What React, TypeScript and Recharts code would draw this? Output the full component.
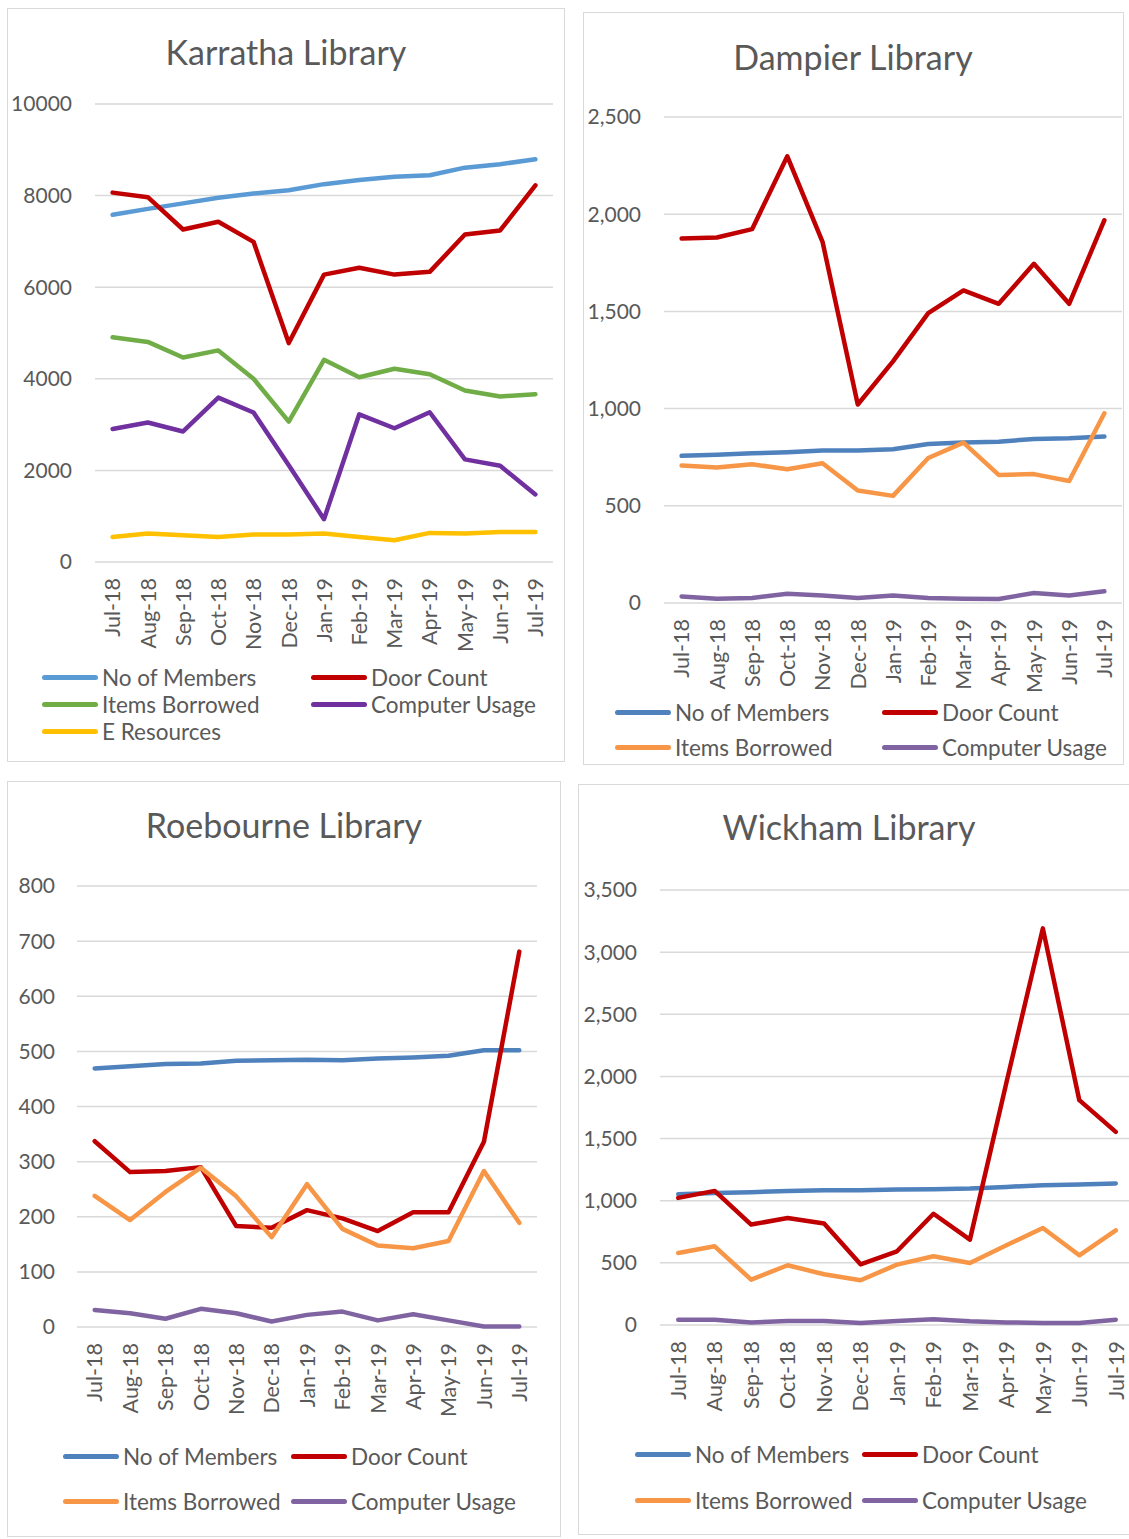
import { LineChart, Line, XAxis, YAxis, CartesianGrid } from 'recharts';

const months = ["Jul-18", "Aug-18", "Sep-18", "Oct-18", "Nov-18", "Dec-18", "Jan-19", "Feb-19", "Mar-19", "Apr-19", "May-19", "Jun-19", "Jul-19"];

// Karratha
const karrathaMembers = [7580, 7710, 7830, 7955, 8045, 8115, 8250, 8340, 8410, 8445, 8610, 8685, 8795];
const karrathaDoor = [8065, 7965, 7260, 7430, 6990, 4780, 6275, 6425, 6275, 6335, 7150, 7240, 8225];
const karrathaItems = [4905, 4805, 4465, 4620, 4000, 3065, 4415, 4035, 4220, 4100, 3745, 3615, 3665];
const karrathaComputer = [2905, 3045, 2850, 3590, 3265, 2115, 935, 3225, 2920, 3270, 2240, 2100, 1475];
const karrathaEResources = [545, 620, 585, 545, 600, 600, 620, 545, 475, 635, 620, 655, 655];
const karrathaTicks = [0, 2000, 4000, 6000, 8000, 10000];

// Dampier
const dampierMembers = [757, 762, 770, 776, 784, 784, 791, 818, 825, 830, 844, 847, 856];
const dampierDoor = [1875, 1880, 1923, 2298, 1858, 1021, 1243, 1491, 1608, 1539, 1745, 1539, 1969];
const dampierItems = [707, 697, 714, 688, 719, 579, 551, 746, 825, 659, 663, 628, 976];
const dampierComputer = [34, 22, 26, 48, 38, 26, 39, 26, 22, 21, 51, 39, 60];
const dampierTicks = [0, 500, 1000, 1500, 2000, 2500];

// Roebourne
const roebourneMembers = [469, 473, 477, 478, 483, 484, 485, 484, 487, 489, 492, 502, 502];
const roebourneDoor = [337, 281, 283, 290, 183, 180, 212, 197, 174, 208, 208, 336, 681];
const roebourneItems = [238, 194, 245, 289, 237, 163, 259, 178, 148, 143, 156, 283, 189];
const roebourneComputer = [31, 25, 15, 33, 25, 10, 22, 28, 12, 23, 12, 1, 1];
const roebourneTicks = [0, 100, 200, 300, 400, 500, 600, 700, 800];

// Wickham
const wickhamMembers = [1052, 1063, 1068, 1079, 1084, 1084, 1090, 1092, 1098, 1111, 1125, 1130, 1138];
const wickhamDoor = [1023, 1079, 808, 861, 816, 488, 593, 895, 687, 1950, 3191, 1809, 1554];
const wickhamItems = [580, 633, 365, 481, 408, 360, 486, 553, 499, 641, 781, 561, 762];
const wickhamComputer = [43, 43, 21, 32, 32, 16, 32, 46, 30, 21, 16, 16, 43];
const wickhamTicks = [0, 500, 1000, 1500, 2000, 2500, 3000, 3500];

const textColor = "#595959";
const gridColor = "#d9d9d9";

const MonthTick = (props: any) => {
  const { x, y, payload } = props;
  return (
    <text x={x} y={y} transform={`rotate(-90 ${x} ${y})`} textAnchor="end" dy="0.36em" fill={textColor} fontSize={21.5}>
      {payload.value}
    </text>
  );
};

function Panel({ title, left, top, width, height, plot, yTicks, yWidth, comma, series, titleX, titleY, legend }: any) {
  const rows = months.map((m, i) => {
    const row: any = { month: m };
    series.forEach((s: any) => { row[s.key] = s.values[i]; });
    return row;
  });
  const plotWidth = width - plot.left - plot.right;
  const pad = plotWidth / (months.length * 2);
  const yMax = yTicks[yTicks.length - 1];

  return (
    <div style={{ position: 'absolute', left, top, width, height }}>
      <div style={{ position: 'absolute', left: 0, top: 0, width, height, boxSizing: 'border-box', border: `1.5px solid ${gridColor}` }} />
      <div style={{ position: 'absolute', left: titleX - 250, width: 500, top: titleY - 22, textAlign: 'center', fontSize: 34, lineHeight: '44px', color: textColor }}>
        {title}
      </div>
      <div style={{ position: 'absolute', left: 0, top: 0 }}>
        <LineChart width={width} height={height} data={rows}
          margin={{ top: plot.top, right: plot.right, left: plot.left - yWidth, bottom: height - plot.bottom - 90 }}>
          <CartesianGrid vertical={false} stroke={gridColor} strokeWidth={1.5} />
          <XAxis dataKey="month" interval={0} height={90} axisLine={false} tickLine={false} tickSize={0} tickMargin={16}
            padding={{ left: pad, right: pad }} tick={<MonthTick />} />
          <YAxis domain={[0, yMax]} ticks={yTicks} width={yWidth} axisLine={false} tickLine={false} tickSize={0}
            tickMargin={plot.tickGap} interval={0}
            tick={{ fill: textColor, fontSize: 21 }}
            tickFormatter={(v: number) => (comma ? v.toLocaleString('en-US') : String(v))} />
          {series.map((s: any) => (
            <Line key={s.key} type="linear" dataKey={s.key} stroke={s.color} strokeWidth={4.5} dot={false}
              strokeLinecap="round" strokeLinejoin="round" isAnimationActive={false} />
          ))}
        </LineChart>
      </div>
      {series.map((s: any, i: number) => {
        const col = i % 2;
        const row = Math.floor(i / 2);
        const x = legend.cols[col];
        const y = legend.rows[row];
        return (
          <div key={s.key} style={{ position: 'absolute', left: x, top: y - 15, height: 30, display: 'flex', alignItems: 'center', whiteSpace: 'nowrap' }}>
            <div style={{ width: 56, height: 5, borderRadius: 3, background: s.color, marginRight: 4 }} />
            <span style={{ fontSize: 22.5, color: textColor }}>{s.label}</span>
          </div>
        );
      })}
    </div>
  );
}

export default function App() {
  const karrathaSeries = [
    { key: 'members', label: 'No of Members', color: '#5B9BD5', values: karrathaMembers },
    { key: 'door', label: 'Door Count', color: '#C00000', values: karrathaDoor },
    { key: 'items', label: 'Items Borrowed', color: '#70AD47', values: karrathaItems },
    { key: 'computer', label: 'Computer Usage', color: '#7030A0', values: karrathaComputer },
    { key: 'eres', label: 'E Resources', color: '#FFC000', values: karrathaEResources },
  ];
  const otherColors = { members: '#4F81BD', door: '#C00000', items: '#F79646', computer: '#8064A2' };
  const mk = (m: number[], d: number[], it: number[], c: number[]) => [
    { key: 'members', label: 'No of Members', color: otherColors.members, values: m },
    { key: 'door', label: 'Door Count', color: otherColors.door, values: d },
    { key: 'items', label: 'Items Borrowed', color: otherColors.items, values: it },
    { key: 'computer', label: 'Computer Usage', color: otherColors.computer, values: c },
  ];

  return (
    <div style={{ position: 'absolute', left: 0, top: 0, width: 1129, height: 1539, overflow: 'hidden', background: '#fff', fontFamily: 'Lato, Carlito, "Open Sans", sans-serif' }}>
      <Panel title="Karratha Library" left={7} top={8} width={558} height={754}
        plot={{ left: 88, right: 12, top: 96, bottom: 554, tickGap: 23 }} yWidth={80}
        yTicks={karrathaTicks} comma={false} series={karrathaSeries} titleX={279} titleY={44}
        legend={{ cols: [35, 304], rows: [669, 696, 723] }} />
      <Panel title="Dampier Library" left={583} top={12} width={541} height={753}
        plot={{ left: 81, right: 2, top: 105, bottom: 591, tickGap: 23 }} yWidth={75}
        yTicks={dampierTicks} comma={true} series={mk(dampierMembers, dampierDoor, dampierItems, dampierComputer)}
        titleX={270} titleY={45} legend={{ cols: [32, 299], rows: [700, 735] }} />
      <Panel title="Roebourne Library" left={7} top={781} width={554} height={756}
        plot={{ left: 70, right: 24, top: 105, bottom: 546, tickGap: 22 }} yWidth={65}
        yTicks={roebourneTicks} comma={true} series={mk(roebourneMembers, roebourneDoor, roebourneItems, roebourneComputer)}
        titleX={277} titleY={44} legend={{ cols: [56, 284], rows: [675, 720] }} />
      <Panel title="Wickham Library" left={578} top={784} width={560} height={751}
        plot={{ left: 82, right: 4, top: 106, bottom: 541, tickGap: 23 }} yWidth={75}
        yTicks={wickhamTicks} comma={true} series={mk(wickhamMembers, wickhamDoor, wickhamItems, wickhamComputer)}
        titleX={271} titleY={43} legend={{ cols: [57, 284], rows: [670, 716] }} />
    </div>
  );
}
